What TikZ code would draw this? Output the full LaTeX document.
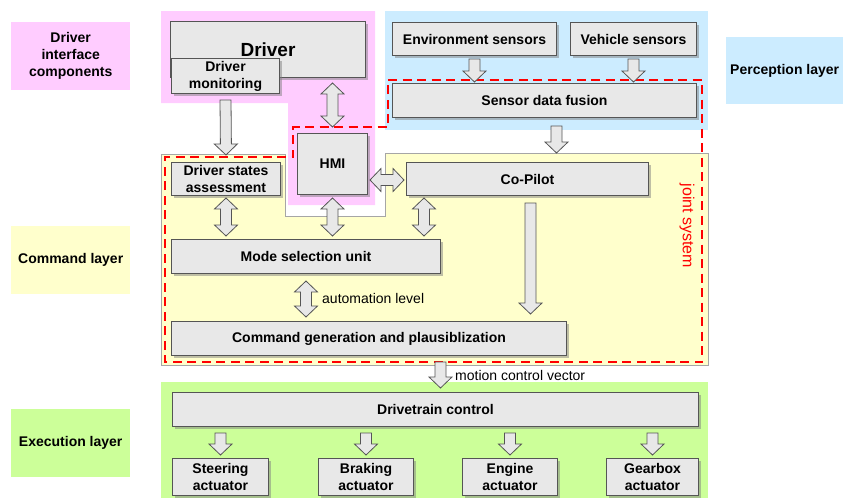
\documentclass[tikz,border=0pt]{standalone}
\usepackage{fontspec}
\setmainfont{Liberation Sans}
\usetikzlibrary{calc,shadows}

\definecolor{pinkbg}{RGB}{255,204,255}
\definecolor{bluebg}{RGB}{204,236,255}
\definecolor{yellowbg}{RGB}{255,255,204}
\definecolor{greenbg}{RGB}{204,255,153}
\definecolor{boxfill}{RGB}{232,232,232}
\definecolor{boxline}{RGB}{85,85,85}

\tikzset{
  box/.style={draw=boxline, fill=boxfill, line width=1pt, inner sep=1pt, align=center,
    anchor=north west, font=\fontsize{14}{17}\selectfont\bfseries,
    drop shadow={shadow xshift=2pt, shadow yshift=-2pt, fill=black!50, opacity=.5}},
  tag/.style={anchor=north west, inner sep=0pt, align=center,
    font=\fontsize{14}{17}\selectfont\bfseries},
  note/.style={anchor=west, inner sep=0pt, font=\fontsize{14}{17}\selectfont},
  jointline/.style={draw=red, line width=2.6pt, dash pattern=on 9pt off 5.5pt},
  fat/.style={fill=boxfill, draw=boxline, line width=0.8pt, line join=miter,
    to path={let \p1=(\tikztostart), \p2=(\tikztotarget) in
      ($(\p1)!5.5pt!90:(\p2)$) -- ($(\p2)!12.3pt!-26.57:(\p1)$)
      -- ($(\p2)!15.91pt!-46.27:(\p1)$) -- (\p2)
      -- ($(\p2)!15.91pt!46.27:(\p1)$) -- ($(\p2)!12.3pt!26.57:(\p1)$)
      -- ($(\p1)!5.5pt!-90:(\p2)$) -- cycle}},
  fatboth/.style={fill=boxfill, draw=boxline, line width=0.8pt, line join=miter,
    to path={let \p1=(\tikztostart), \p2=(\tikztotarget) in
      -- ($(\p1)!15.91pt!46.27:(\p2)$) -- ($(\p1)!12.3pt!26.57:(\p2)$)
      -- ($(\p2)!12.3pt!-26.57:(\p1)$) -- ($(\p2)!15.91pt!-46.27:(\p1)$)
      -- (\p2) -- ($(\p2)!15.91pt!46.27:(\p1)$) -- ($(\p2)!12.3pt!26.57:(\p1)$)
      -- ($(\p1)!12.3pt!-26.57:(\p2)$) -- ($(\p1)!15.91pt!-46.27:(\p2)$) -- cycle}},
}

\begin{document}
\begin{tikzpicture}[x=1pt, y=-1pt]
    \useasboundingbox (0,0) rectangle (843,498);

    % layer backgrounds
    \fill[pinkbg] (161,11) -- (375,11) -- (375,205) -- (288,205) -- (288,103) -- (161,103) -- cycle;
    \fill[bluebg] (385,11) rectangle (708,130);
    \filldraw[fill=yellowbg, draw=gray!70, line width=1pt] (161,154) -- (285,154) -- (285,216)
        -- (385,216) -- (385,153) -- (708,153) -- (708,365) -- (161,365) -- cycle;
    \fill[greenbg] (161,382) rectangle (708,498);

    % layer tags
    \node[tag, fill=pinkbg, minimum width=119pt, minimum height=68pt] (tagdriver) at (11,22) {Driver\\interface\\components};
    \node[tag, fill=bluebg, minimum width=117pt, minimum height=67pt] (tagperception) at (726,37) {Perception layer};
    \node[tag, fill=yellowbg, minimum width=119pt, minimum height=68pt] (tagcommand) at (11,226) {Command layer};
    \node[tag, fill=greenbg, minimum width=119pt, minimum height=68pt] (tagexecution) at (11,409) {Execution layer};

    % joint system border
    \draw[jointline] (388,80) -- (702,80) -- (702,362) -- (165,362) -- (165,157)
        -- (293,157) -- (293,127) -- (388,127) -- cycle;
    \node[note, anchor=center, rotate=-90, text=red, font=\fontsize{16}{18}\selectfont] (joint) at (687,226) {joint system};

    % blocks
    \node[box, minimum width=195pt, minimum height=56pt, font=\fontsize{19}{22}\selectfont\bfseries] (drv) at (170,21) {Driver};
    \node[box, minimum width=108pt, minimum height=35pt] (dm) at (171,58) {Driver\\monitoring};
    \node[box, minimum width=164pt, minimum height=33pt] (env) at (392,22) {Environment sensors};
    \node[box, minimum width=126pt, minimum height=33pt] (veh) at (570,22) {Vehicle sensors};
    \node[box, minimum width=304pt, minimum height=34pt] (sdf) at (392,83) {Sensor data fusion};
    \node[box, minimum width=70pt, minimum height=61pt] (hmi) at (297,133) {HMI};
    \node[box, minimum width=109pt, minimum height=33pt] (dsa) at (171,162) {Driver states\\assessment};
    \node[box, minimum width=242pt, minimum height=33pt] (copilot) at (406,162) {Co-Pilot};
    \node[box, minimum width=269pt, minimum height=34pt] (msu) at (171,239) {Mode selection unit};
    \node[box, minimum width=395pt, minimum height=34pt] (cgp) at (171,321) {Command generation and plausiblization};
    \node[box, minimum width=526pt, minimum height=34pt] (dtc) at (172,392) {Drivetrain control};
    \node[box, minimum width=96pt, minimum height=37pt] (steer) at (172,458) {Steering\\actuator};
    \node[box, minimum width=95pt, minimum height=37pt] (brake) at (318,458) {Braking\\actuator};
    \node[box, minimum width=95pt, minimum height=37pt] (engine) at (462,458) {Engine\\actuator};
    \node[box, minimum width=92pt, minimum height=37pt] (gear) at (606,458) {Gearbox\\actuator};

    % block arrows
    \draw[fat] ($(dm.south)+(0,6)$) to ($(dsa.north)+(0,-7)$);
    \draw[fatboth] ($(hmi.north |- drv.south)+(0,5)$) to ($(hmi.north)+(0,-6)$);
    \draw[fat] ($(env.south)+(0,3)$) to ($(env.south |- sdf.north)+(0,-1)$);
    \draw[fat] ($(veh.south)+(0,3)$) to ($(veh.south |- sdf.north)+(0,-1)$);
    \draw[fat] ($(sdf.south)+(12,8)$) to ($(sdf.south)+(12,35)$);
    \draw[fatboth] ($(hmi.east |- copilot.west)+(2,1)$) to ($(copilot.west)+(-2,1)$);
    \draw[fatboth] ($(dsa.south)+(0,2)$) to ($(dsa.south |- msu.north)+(0,-3)$);
    \draw[fatboth] ($(hmi.south)+(0,3)$) to ($(hmi.south |- msu.north)+(0,-3)$);
    \draw[fatboth] ($(copilot.south west)+(18,2)$) to ($(copilot.south west |- msu.north)+(18,-3)$);
    \draw[fatboth] ($(msu.south)+(0,7)$) to ($(msu.south |- cgp.north)+(0,-4)$);
    \node[note] (autolevel) at (322,298) {automation level};
    \draw[fat] ($(copilot.south)+(3,7)$) to ($(copilot.south |- cgp.north)+(3,-7)$);
    \draw[fat] ($(dtc.north)+(5,-30)$) to ($(dtc.north)+(5,-4)$);
    \node[note] (mcv) at (455,375) {motion control vector};
    \foreach \act in {steer,brake,engine,gear}
        \draw[fat] ($(\act.north |- dtc.south)+(0,6)$) to ($(\act.north)+(0,-3)$);
\end{tikzpicture}
\end{document}
